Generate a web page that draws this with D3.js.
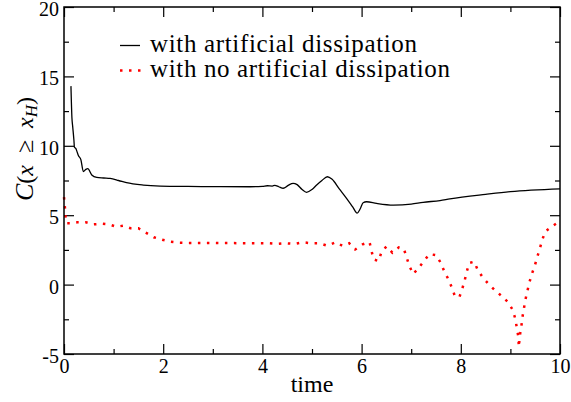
<!DOCTYPE html>
<html lang="en">
<head>
<meta charset="UTF-8">
<title>C(x >= xH) vs time</title>
<script src="https://d3js.org/d3.v7.min.js"></script>
<style>
    body { margin: 0; background: #fff; }
    svg { display: block; }
    svg text { font-family: "Liberation Serif", Tinos, "Times New Roman", Times, "DejaVu Serif", serif; }
</style>
</head>
<body>
<div id="chart"></div>
<script>
    // series with artificial dissipation (black solid)
    const timeDiss = [0.14, 0.16, 0.175, 0.2, 0.21, 0.24, 0.26, 0.29, 0.34, 0.39, 0.44, 0.48, 0.56, 0.66, 0.8, 0.93,
        1.1, 1.26, 1.6, 1.94, 2.5, 3.0, 3.75, 4.0, 4.1, 4.2, 4.25, 4.33, 4.42, 4.52, 4.62, 4.7, 4.8, 4.89, 5.0,
        5.1, 5.2, 5.31, 5.4, 5.55, 5.7, 5.82, 5.91, 5.97, 6.03, 6.1, 6.3, 6.64, 7.0, 7.24, 7.58, 7.78, 8.5, 9.0, 10.0];
    const valDiss = [14.3, 12.0, 11.4, 10.4, 9.9, 9.8, 9.6, 9.3, 9.0, 8.15, 8.3, 8.35, 7.9, 7.72, 7.68, 7.65,
        7.5, 7.34, 7.17, 7.1, 7.07, 7.06, 7.05, 7.07, 7.12, 7.1, 7.15, 7.05, 6.94, 7.15, 7.3, 7.2, 6.85, 6.65, 6.85,
        7.2, 7.5, 7.77, 7.6, 6.9, 6.2, 5.6, 5.15, 5.45, 5.9, 5.97, 5.85, 5.73, 5.8, 5.93, 6.05, 6.17, 6.5, 6.7, 6.9];

    // series with no artificial dissipation (red dotted)
    const timeNoDiss = [0.0, 0.02, 0.03, 0.05, 0.15, 0.27, 0.44, 0.6, 0.77, 0.91, 1.05, 1.19, 1.34, 1.5, 1.65, 1.81,
        1.98, 2.15, 2.33, 2.51, 3.0, 3.75, 3.94, 4.12, 4.3, 4.47, 4.64, 4.81, 4.98, 5.15, 5.31, 5.48, 5.61, 5.75,
        5.87, 6.02, 6.16, 6.2, 6.24, 6.34, 6.4, 6.5, 6.62, 6.75, 6.85, 6.91, 6.96, 7.04, 7.15, 7.26, 7.37, 7.51,
        7.6, 7.67, 7.75, 7.82, 7.88, 7.97, 8.03, 8.08, 8.12, 8.17, 8.27, 8.34, 8.44, 8.56, 8.69, 8.83, 8.96, 9.05,
        9.1, 9.13, 9.16, 9.17, 9.19, 9.22, 9.24, 9.27, 9.3, 9.34, 9.38, 9.43, 9.49, 9.54, 9.59, 9.64, 9.7, 9.83, 10.0];
    const valNoDiss = [6.3, 5.5, 4.9, 4.42, 4.42, 4.49, 4.49, 4.34, 4.39, 4.34, 4.17, 4.24, 4.06, 4.06, 3.74, 3.41,
        3.23, 3.09, 3.02, 3.0, 3.0, 2.98, 2.98, 2.98, 2.93, 2.98, 2.93, 3.05, 2.98, 2.98, 2.8, 3.05, 2.8, 2.98,
        2.53, 2.9, 3.06, 2.44, 1.82, 1.7, 2.32, 2.75, 2.3, 2.68, 2.59, 1.94, 1.36, 0.76, 1.2, 1.72, 2.2, 2.11,
        1.53, 0.93, 0.38, -0.22, -0.82, -0.92, -0.3, 0.33, 0.93, 1.56, 1.65, 1.07, 0.53, 0.04, -0.41, -0.84, -1.3, -1.85,
        -2.48, -3.13, -3.75, -4.5, -3.68, -3.05, -2.4, -1.78, -1.13, -0.51, 0.12, 0.74, 1.34, 1.97, 2.56, 3.19, 3.81, 4.17, 4.58];

    const xTicks = [0, 2, 4, 6, 8, 10];
    const xMinorTicks = [1, 3, 5, 7, 9];
    const yTicks = [-5, 0, 5, 10, 15, 20];
    const yMinorTicks = [-2.5, 2.5, 7.5, 12.5, 17.5];
    const legendLabels = ["with artificial dissipation", "with no artificial dissipation"];

    const width = 571, height = 402;
    const margin = { top: 7, right: 11, bottom: 48, left: 64 };
    const w = width - margin.left - margin.right;
    const h = height - margin.top - margin.bottom;

    const svg = d3.select("#chart").append("svg")
        .attr("width", width)
        .attr("height", height);

    const g = svg.append("g")
        .attr("transform", `translate(${margin.left},${margin.top})`);

    const x = d3.scaleLinear().domain([0, 10]).range([0, w]);
    const y = d3.scaleLinear().domain([-5, 20]).range([h, 0]);

    // inward ticks on all four sides
    function styleAxis(sel) {
        sel.attr("font-family", null).attr("font-size", null);
        sel.select(".domain").remove();
        sel.selectAll("line").attr("stroke", "#000").attr("stroke-width", 1.2);
        sel.selectAll("text").attr("fill", "#000").style("font-size", "20px");
    }
    const fmt = d => String(d);

    g.append("g").attr("transform", `translate(0,${h})`)
        .call(d3.axisBottom(x).tickValues(xTicks).tickSize(-10).tickPadding(5).tickFormat(fmt))
        .call(styleAxis);
    g.append("g").attr("transform", `translate(0,${h})`)
        .call(d3.axisBottom(x).tickValues(xMinorTicks).tickSize(-5).tickFormat(""))
        .call(styleAxis);
    g.append("g")
        .call(d3.axisTop(x).tickValues(xTicks).tickSize(-10).tickFormat(""))
        .call(styleAxis);
    g.append("g")
        .call(d3.axisTop(x).tickValues(xMinorTicks).tickSize(-5).tickFormat(""))
        .call(styleAxis);

    g.append("g")
        .call(d3.axisLeft(y).tickValues(yTicks).tickSize(-10).tickPadding(5).tickFormat(fmt))
        .call(styleAxis)
        .selectAll("text").attr("dy", "0.42em");
    g.append("g")
        .call(d3.axisLeft(y).tickValues(yMinorTicks).tickSize(-5).tickFormat(""))
        .call(styleAxis);
    g.append("g").attr("transform", `translate(${w},0)`)
        .call(d3.axisRight(y).tickValues(yTicks).tickSize(-10).tickFormat(""))
        .call(styleAxis);
    g.append("g").attr("transform", `translate(${w},0)`)
        .call(d3.axisRight(y).tickValues(yMinorTicks).tickSize(-5).tickFormat(""))
        .call(styleAxis);

    // data lines
    const dissData = timeDiss.map((t, i) => [t, valDiss[i]]);
    const noDissData = timeNoDiss.map((t, i) => [t, valNoDiss[i]]);

    g.append("path")
        .datum(noDissData)
        .attr("fill", "none")
        .attr("stroke", "#ff0000")
        .attr("stroke-width", 2.5)
        .attr("stroke-dasharray", "2.5,6.5")
        .attr("d", d3.line().x(d => x(d[0])).y(d => y(d[1])));

    g.append("path")
        .datum(dissData)
        .attr("fill", "none")
        .attr("stroke", "#000")
        .attr("stroke-width", 1.3)
        .attr("d", d3.line().curve(d3.curveMonotoneX).x(d => x(d[0])).y(d => y(d[1])));

    // frame
    g.append("rect")
        .attr("width", w)
        .attr("height", h)
        .attr("fill", "none")
        .attr("stroke", "#000")
        .attr("stroke-width", 1.5);

    // legend
    const legend = svg.append("g");
    legend.append("line")
        .attr("x1", 120).attr("x2", 140).attr("y1", 45.5).attr("y2", 45.5)
        .attr("stroke", "#000").attr("stroke-width", 1.3);
    legend.append("line")
        .attr("x1", 120).attr("x2", 141).attr("y1", 70.5).attr("y2", 70.5)
        .attr("stroke", "#ff0000").attr("stroke-width", 2.5).attr("stroke-dasharray", "2.5,6.5");
    legend.selectAll("text.leg")
        .data(legendLabels)
        .enter().append("text")
        .attr("class", "leg")
        .attr("x", 150)
        .attr("y", (d, i) => 52 + i * 25)
        .style("font-size", "25px")
        .attr("textLength", (d, i) => i === 0 ? 267 : 300)
        .attr("lengthAdjust", "spacing")
        .text(d => d);

    // x axis label
    svg.append("text")
        .attr("x", margin.left + w / 2)
        .attr("y", 392)
        .attr("text-anchor", "middle")
        .style("font-size", "24px")
        .text("time");

    // y axis label: C(x ≥ x_H)
    const ylab = svg.append("text")
        .attr("transform", "translate(33,149) rotate(-90)")
        .attr("text-anchor", "middle")
        .style("font-size", "24px");
    ylab.append("tspan").attr("font-style", "italic").style("font-size", "26px").text("C");
    ylab.append("tspan").text("(");
    ylab.append("tspan").attr("font-style", "italic").text("x");
    ylab.append("tspan").text("\u2002≥\u2002");
    ylab.append("tspan").attr("font-style", "italic").text("x");
    ylab.append("tspan").attr("font-style", "italic").style("font-size", "17px").attr("dy", 4).text("H");
    ylab.append("tspan").attr("dy", -4).text(")");
</script>
</body>
</html>
